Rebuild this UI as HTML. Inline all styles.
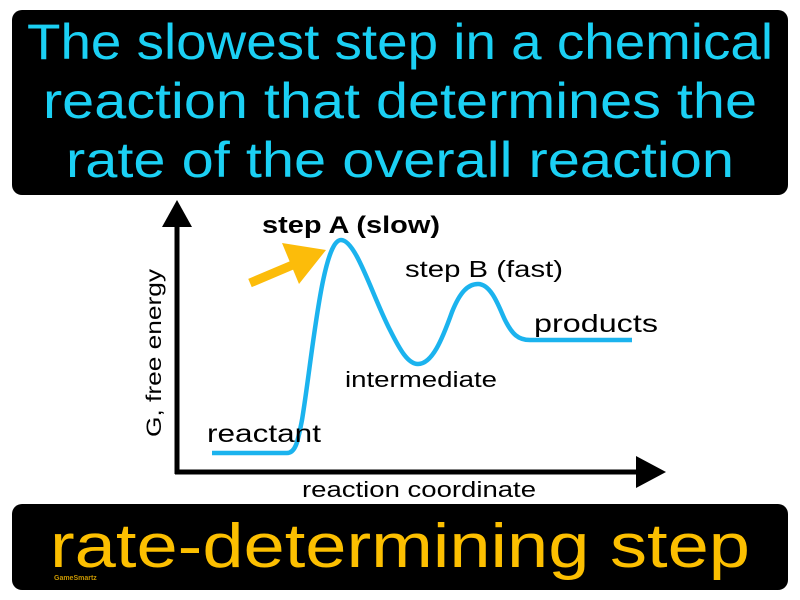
<!DOCTYPE html>
<html><head><meta charset="utf-8"><style>
html,body{margin:0;padding:0;background:#fff;}
svg{display:block;}
</style></head><body>
<svg width="800" height="600" viewBox="0 0 800 600" xmlns="http://www.w3.org/2000/svg">
<rect x="0" y="0" width="800" height="600" fill="#fff"/>
<rect x="12" y="10" width="776" height="185" rx="10" fill="#000"/>
<g font-family="Liberation Sans, sans-serif" fill="#1bd0f4" font-size="50" text-anchor="middle">
<text x="400" y="59" textLength="746" lengthAdjust="spacingAndGlyphs">The slowest step in a chemical</text>
<text x="400" y="118" textLength="714" lengthAdjust="spacingAndGlyphs">reaction that determines the</text>
<text x="400" y="177" textLength="668" lengthAdjust="spacingAndGlyphs">rate of the overall reaction</text>
</g>
<rect x="12" y="504" width="776" height="86" rx="10" fill="#000"/>
<text x="400" y="567" font-family="Liberation Sans, sans-serif" font-size="62" fill="#fcbf00" text-anchor="middle" textLength="700" lengthAdjust="spacingAndGlyphs">rate-determining step</text>
<text x="54" y="580" font-family="Liberation Sans, sans-serif" font-size="7" font-weight="bold" fill="#c89600">GameSmartz</text>

<line x1="177" y1="222" x2="177" y2="474" stroke="#000" stroke-width="5"/>
<polygon points="177,200 162,227 192,227" fill="#000"/>
<line x1="175" y1="472" x2="640" y2="472" stroke="#000" stroke-width="5"/>
<polygon points="666,472 636,456 636,488" fill="#000"/>

<path d="M212,453 L287,453 C296,453 298,440 302,420 C312,360 322,240 341,240 C356,240 372,295 390,330 C400,350 408,364 418,364 C432,364 442,340 452,312 C460,292 468,284 478,284 C492,284 500,310 505,320 C512,334 518,340 530,340 L632,340" fill="none" stroke="#1bb3ee" stroke-width="4.5" stroke-linejoin="round"/>

<line x1="250" y1="283" x2="302" y2="261" stroke="#fcbc0a" stroke-width="9"/>
<polygon points="326,250 282,243 299,284" fill="#fcbc0a"/>

<g font-family="Liberation Sans, sans-serif" fill="#000">
<text x="262" y="233" font-size="24" font-weight="bold" textLength="178" lengthAdjust="spacingAndGlyphs">step A (slow)</text>
<text x="405" y="277" font-size="23" textLength="158" lengthAdjust="spacingAndGlyphs">step B (fast)</text>
<text x="534" y="332" font-size="25" textLength="124" lengthAdjust="spacingAndGlyphs">products</text>
<text x="345" y="387" font-size="22" textLength="152" lengthAdjust="spacingAndGlyphs">intermediate</text>
<text x="207" y="442" font-size="25" textLength="114" lengthAdjust="spacingAndGlyphs">reactant</text>
<text x="302" y="497" font-size="22" textLength="234" lengthAdjust="spacingAndGlyphs">reaction coordinate</text>
<text transform="translate(161,437) rotate(-90)" font-size="21" textLength="168" lengthAdjust="spacingAndGlyphs">G, free energy</text>
</g>
</svg>
</body></html>
